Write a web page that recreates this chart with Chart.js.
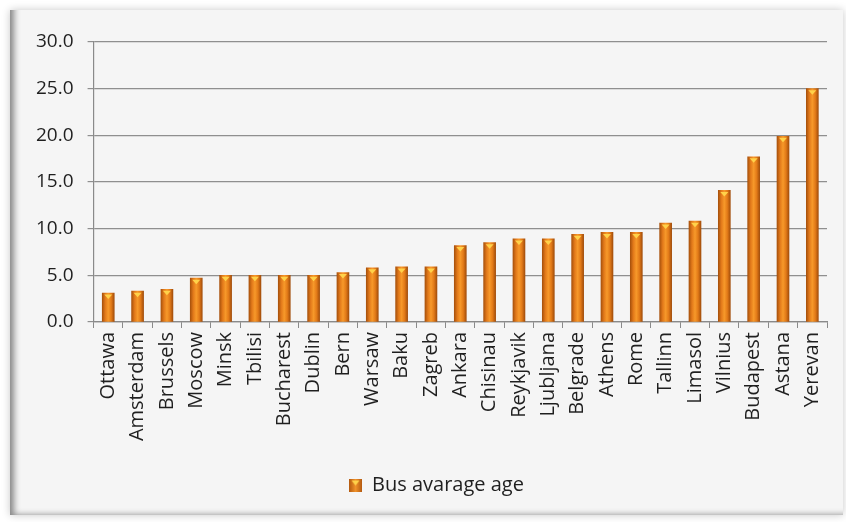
<!DOCTYPE html>
<html>
<head>
<meta charset="utf-8">
<script src="https://cdn.jsdelivr.net/npm/chart.js@4.4.0/dist/chart.umd.min.js"></script>
<style>
  html, body { margin:0; padding:0; background:#ffffff; width:846px; height:522px; overflow:hidden; }
  #panel { position:absolute; left:10px; top:10px; width:833px; height:505px; background:#f5f5f5;
           box-shadow: 0 0 8px rgba(0,0,0,0.22), inset 9px -5px 6px -5px rgba(0,0,0,0.45); }
  #wrap { position:absolute; left:0; top:0; width:846px; height:522px; }
</style>
</head>
<body>
<div id="panel"></div>
<div id="wrap"><canvas id="c" width="846" height="522"></canvas></div>
<script>
const cities = ["Ottawa","Amsterdam","Brussels","Moscow","Minsk","Tbilisi","Bucharest","Dublin","Bern","Warsaw","Baku","Zagreb","Ankara","Chisinau","Reykjavik","Ljubljana","Belgrade","Athens","Rome","Tallinn","Limasol","Vilnius","Budapest","Astana","Yerevan"];
const busAverageAge = [3.1,3.3,3.5,4.7,5.0,5.0,5.0,5.0,5.3,5.8,5.9,5.9,8.2,8.5,8.9,8.9,9.4,9.6,9.6,10.6,10.8,14.1,17.7,19.9,25.0];
const seriesName = "Bus avarage age";
const yTicks = [0,5,10,15,20,25,30];

const FONT = "'Open Sans', sans-serif";
const TEXT = "#1f1f1f";
const BAR_W = 12;

function barGradient(ctx) {
  if (ctx.type !== 'data') return '#e07b1a';
  const chart = ctx.chart;
  const xs = chart.scales.x;
  if (!xs) return '#e07b1a';
  const x = xs.getPixelForValue(ctx.dataIndex);
  const g = chart.ctx.createLinearGradient(x - BAR_W/2, 0, x + BAR_W/2, 0);
  g.addColorStop(0, '#a9520c');
  g.addColorStop(0.25, '#e2791a');
  g.addColorStop(0.5, '#f7992a');
  g.addColorStop(0.75, '#e27a18');
  g.addColorStop(1, '#a34e0b');
  return g;
}

const capPlugin = {
  id: 'caps',
  afterDatasetsDraw(chart) {
    const meta = chart.getDatasetMeta(0);
    const c = chart.ctx;
    c.save();
    meta.data.forEach(el => {
      const x = el.x, y = el.y;
      c.fillStyle = '#ffd24a';
      c.beginPath();
      c.moveTo(x - 4, y + 1.5);
      c.lineTo(x + 4, y + 1.5);
      c.lineTo(x, y + 6);
      c.closePath();
      c.fill();
    });
    c.restore();
  }
};

// nudge the legend to sit where the reference has it
const legendShift = {
  id: 'legendShift',
  afterLayout(chart) {
    const lg = chart.legend;
    if (lg) { lg.left += 12; lg.right += 12; }
  }
};

// legend marker
const mk = document.createElement('canvas');
mk.width = 13; mk.height = 13;
(function(){
  const m = mk.getContext('2d');
  const g = m.createLinearGradient(0,0,13,0);
  g.addColorStop(0,'#b45a10'); g.addColorStop(0.5,'#f0922a'); g.addColorStop(1,'#b45a10');
  m.fillStyle = g; m.fillRect(0,0,13,13);
  m.fillStyle = '#ffd24a';
  m.beginPath(); m.moveTo(2.5,2); m.lineTo(10.5,2); m.lineTo(6.5,7); m.closePath(); m.fill();
})();

new Chart(document.getElementById('c'), {
  type: 'bar',
  data: {
    labels: cities,
    datasets: [{
      label: seriesName,
      data: busAverageAge,
      backgroundColor: barGradient,
      borderWidth: 0,
      barThickness: BAR_W
    }]
  },
  plugins: [capPlugin, legendShift],
  options: {
    responsive: false,
    animation: false,
    events: [],
    layout: { padding: { left: 22, right: 19, top: 42, bottom: 17 } },
    plugins: {
      tooltip: { enabled: false },
      legend: {
        position: 'bottom',
        labels: {
          font: { family: FONT, size: 20 },
          color: TEXT,
          usePointStyle: true,
          pointStyleWidth: 13,
          padding: 10,
          generateLabels: (chart) => [{
            text: seriesName, pointStyle: mk, fontColor: TEXT,
            datasetIndex: 0, hidden: false, lineWidth: 0
          }]
        }
      }
    },
    scales: {
      x: {
        grid: { display: true, drawOnChartArea: false, drawTicks: true, tickLength: 6, color: '#8a8a8a', offset: true },
        border: { display: true, color: '#8a8a8a', width: 1.2 },
        ticks: { font: { family: FONT, size: 20 }, color: TEXT, maxRotation: 90, minRotation: 90, padding: 4, autoSkip: false },
        afterFit: (s) => { s.height = 143; }
      },
      y: {
        min: 0, max: 30,
        afterBuildTicks: (s) => { s.ticks = yTicks.map(v => ({ value: v })); },
        grid: { color: '#8f8f8f', lineWidth: 1.2, tickLength: 6, drawTicks: true },
        border: { display: true, color: '#8a8a8a', width: 1.2 },
        ticks: { font: { family: FONT, size: 19 }, color: TEXT, padding: 14, callback: v => Number(v).toFixed(1) }
      }
    }
  }
});
</script>
</body>
</html>
